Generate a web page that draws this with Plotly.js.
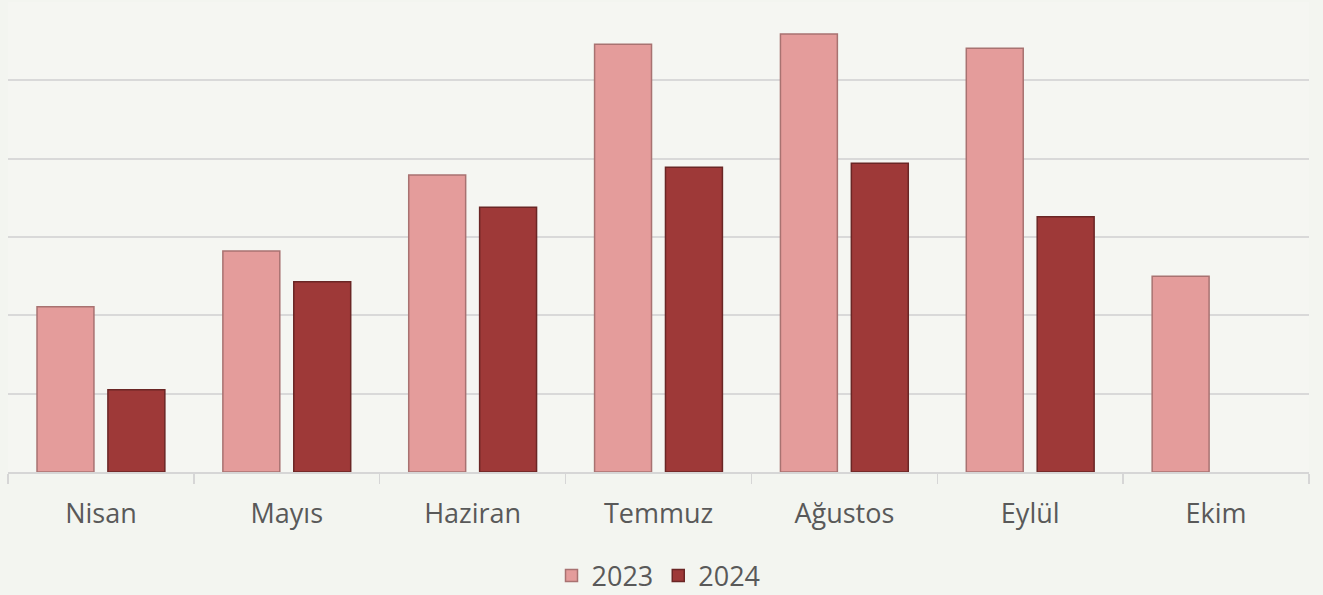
<!DOCTYPE html>
<html>
<head>
<meta charset="utf-8">
<script src="https://cdn.plot.ly/plotly-3.0.1.min.js"></script>
<style>
  html, body { margin: 0; padding: 0; background: #F3F5F0; }
  #chart { width: 1323px; height: 595px; }
</style>
</head>
<body>
<div id="chart"></div>
<script>
const categories = ["Nisan", "Mayıs", "Haziran", "Temmuz", "Ağustos", "Eylül", "Ekim"];
const values2023 = [2.11, 2.82, 3.79, 5.46, 5.59, 5.41, 2.50];
const values2024 = [1.05, 2.43, 3.38, 3.89, 3.94, 3.26, null];
const seriesNames = ["2023", "2024"];

const traces = [
  {
    type: "bar", name: seriesNames[0], x: categories, y: values2023,
    marker: { color: "#E49C9B", line: { color: "#A87271", width: 1.5 } },
    hoverinfo: "x+y"
  },
  {
    type: "bar", name: seriesNames[1], x: categories, y: values2024,
    marker: { color: "#9E3938", line: { color: "#6A2625", width: 1.5 } },
    hoverinfo: "x+y"
  }
];

const layout = {
  width: 1323, height: 595,
  margin: { l: 8, r: 14, t: 2, b: 123, autoexpand: false },
  paper_bgcolor: "#F3F5F0",
  plot_bgcolor: "#F5F6F2",
  barmode: "group",
  bargap: 0.237,
  bargroupgap: 0.197,
  font: { family: "Open Sans, Noto Sans, sans-serif", color: "#595959", size: 27 },
  xaxis: {
    type: "category", automargin: false,
    showline: true, linecolor: "#D6D6D6", linewidth: 1.5,
    ticks: "outside", tickson: "boundaries", ticklen: 10, tickcolor: "#D6D6D6", tickwidth: 1.5,
    ticklabelstandoff: 17,
    tickfont: { size: 27, color: "#595959" },
    showgrid: false, zeroline: false
  },
  yaxis: {
    range: [0, 6], dtick: 1, showticklabels: false, automargin: false,
    showgrid: true, gridcolor: "#D9D9D9", gridwidth: 2,
    zeroline: false, showline: false, ticks: ""
  },
  legend: {
    orientation: "h", x: 0.5, xanchor: "center", y: -0.221, yanchor: "middle",
    font: { size: 27, color: "#595959" }, bgcolor: "rgba(0,0,0,0)",
    itemwidth: 30
  },
  showlegend: true
};

Plotly.newPlot("chart", traces, layout, { displayModeBar: false, staticPlot: true });
</script>
</body>
</html>
